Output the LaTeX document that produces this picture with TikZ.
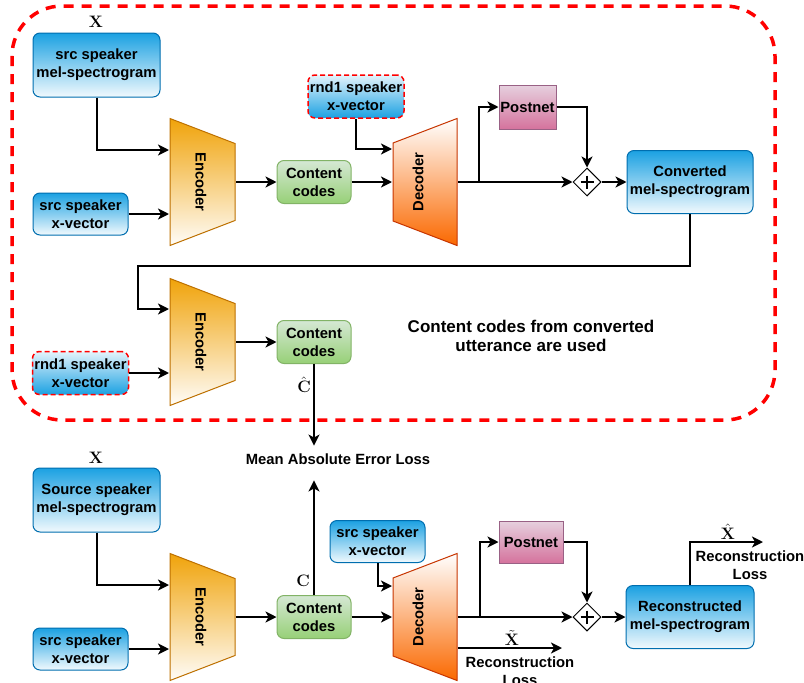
\documentclass[tikz,border=0pt]{standalone}
\usepackage[no-math]{fontspec}
\setmainfont{Liberation Sans}
\usetikzlibrary{arrows.meta,shapes.geometric,calc}
\definecolor{bluetop}{HTML}{1BA1E2}
\definecolor{blueline}{HTML}{006EAF}
\definecolor{encfill}{HTML}{F0A30A}
\definecolor{encline}{HTML}{BD7000}
\definecolor{decfill}{HTML}{FA6800}
\definecolor{decline}{HTML}{C73500}
\definecolor{cctop}{HTML}{D5E8D4}
\definecolor{ccbot}{HTML}{97D077}
\definecolor{ccline}{HTML}{82B366}
\definecolor{pntop}{HTML}{E6D0DE}
\definecolor{pnbot}{HTML}{D5739D}
\definecolor{pnline}{HTML}{996185}
\begin{document}
\begin{tikzpicture}[x=1pt,y=-1pt,>={Stealth[length=11pt,width=11pt,inset=3pt]},line width=2pt,
	txt/.style={font=\bfseries\fontsize{14.8}{18}\selectfont,align=center,inner sep=0pt},
	lbl/.style={font=\fontsize{14.4}{16}\selectfont,inner sep=0pt,scale=1.15,transform shape},
	bluebox/.style={txt,rounded corners=7pt,draw=blueline,line width=1pt,top color=bluetop,bottom color=bluetop!6,minimum width=#1},
	rndbox/.style={txt,rounded corners=7pt,draw=red,line width=1.5pt,dash pattern=on 5pt off 3pt,top color=bluetop!12,bottom color=bluetop,minimum width=96pt,minimum height=43pt},
	ccbox/.style={txt,rounded corners=7pt,draw=ccline,line width=1pt,top color=cctop,bottom color=ccbot,minimum width=74pt,minimum height=43pt},
	pnbox/.style={txt,draw=pnline,line width=1pt,top color=pntop,bottom color=pnbot},
	trapnode/.style={minimum width=65pt,minimum height=127pt,inner sep=0pt},
	sumnode/.style={diamond,draw,fill=white,line width=1pt,minimum size=28pt,inner sep=0pt,
		path picture={\draw[line width=1.8pt] (path picture bounding box.center) ++(-6.5,0) -- ++(13,0) ++(-6.5,-6.5) -- ++(0,13);}}]
	\useasboundingbox (0,0) rectangle (804,683);
	\def\encblock#1#2{
		\node[trapnode] (#1) at (202.5,#2) {};
		\shadedraw[top color=encfill,bottom color=encfill!3,draw=encline,line width=1pt]
		(170,#2-63.5) -- (235,#2-38.5) -- (235,#2+38.5) -- (170,#2+63.5) -- cycle;
		\node[txt,rotate=-90] (#1txt) at (201,#2) {Encoder};
	}
	\def\decblock#1#2{
		\node[trapnode,minimum width=64pt] (#1) at (425,#2) {};
		\shadedraw[top color=white,bottom color=decfill,draw=decline,line width=1pt]
		(393,#2-39) -- (457,#2-63.5) -- (457,#2+63.5) -- (393,#2+39) -- cycle;
		\node[txt,rotate=90] (#1txt) at (418,#2) {Decoder};
	}
	% conversion cycle
	\draw[red,line width=3.5pt,dash pattern=on 10pt off 8pt,rounded corners=50pt] (12,6) rectangle (775,420);
	\node[lbl] (x1) at (96,22) {$\mathbf{X}$};
	\node[bluebox=127,minimum height=64pt] (mel1) at (96.5,65) {src speaker\\mel-spectrogram};
	\node[bluebox=95,minimum height=42pt] (xv1) at (80.5,214) {src speaker\\x-vector};
	\encblock{enc1}{182}
	\node[ccbox] (cc1) at (314,182) {Content\\codes};
	\node[rndbox] (rnd1) at (356,96.5) {rnd1 speaker\\x-vector};
	\decblock{dec1}{182}
	\node[pnbox,minimum width=57pt,minimum height=44pt] (pn1) at (527.5,107) {Postnet};
	\node[sumnode] (sum1) at (587,182) {};
	\node[bluebox=126,minimum height=63pt] (conv) at (690,182) {Converted\\mel-spectrogram};
	\coordinate (back) at (138,266);
	\encblock{enc2}{342}
	\node[rndbox] (rnd2) at (80.5,373) {rnd1 speaker\\x-vector};
	\node[ccbox] (cc2) at (314,342) {Content\\codes};
	\node[lbl] (chat) at (304,385) {$\hat{\mathbf{C}}$};
	\node[txt,font=\bfseries\fontsize{17}{19}\selectfont] (note) at (531,336) {Content codes from converted\\utterance are used};
	\node[txt,inner ysep=7pt] (mae) at (338,459) {Mean Absolute Error Loss};
	% reconstruction
	\node[lbl] (x3) at (96,458) {$\mathbf{X}$};
	\node[bluebox=127,minimum height=64pt] (mel3) at (96.5,500) {Source speaker\\mel-spectrogram};
	\node[bluebox=95,minimum height=42pt] (xv3) at (80.5,649) {src speaker\\x-vector};
	\encblock{enc3}{617}
	\node[ccbox] (cc3) at (314,617) {Content\\codes};
	\node[lbl] (c3) at (303,581) {$\mathbf{C}$};
	\node[bluebox=95,minimum height=42pt] (xv4) at (377.5,541.5) {src speaker\\x-vector};
	\decblock{dec3}{617}
	\node[pnbox,minimum width=64pt,minimum height=42pt] (pn3) at (531,542) {Postnet};
	\node[sumnode] (sum3) at (587,617) {};
	\node[bluebox=128,minimum height=63pt] (rec) at (690,617) {Reconstructed\\mel-spectrogram};
	\coordinate (xhend) at (763,542);
	\node[lbl] (xhat) at (728,532) {$\hat{\mathbf{X}}$};
	\node[txt] (rl1) at (750,565) {Reconstruction\\Loss};
	\coordinate (xtend) at (562,648);
	\node[lbl] (xtil) at (512,638) {$\tilde{\mathbf{X}}$};
	\node[txt] (rl2) at (520,671) {Reconstruction\\Loss};
	% connectors
	\draw[->] (mel1.south) |- ($(enc1.west)+(0,-32)$);
	\draw[->] (xv1.east) -- (xv1.east -| enc1.west);
	\draw[->] (enc1.east) -- (cc1.west);
	\draw[->] (cc1.east) -- (dec1.west);
	\draw[->] (rnd1.south) |- ($(dec1.west)+(0,-33)$);
	\draw[->] (dec1.east) -- (sum1.west);
	\draw[->] ($(dec1.east)+(21,0)$) |- (pn1.west);
	\draw[->] (pn1.east) -| (sum1.north);
	\draw[->] (sum1.east) -- (conv.west);
	\draw[->] (conv.south) |- (back) |- ($(enc2.west)+(0,-33)$);
	\draw[->] (rnd2.east) -- (rnd2.east -| enc2.west);
	\draw[->] (enc2.east) -- (cc2.west);
	\draw[->] (cc2.south) -- (cc2.south |- mae.north);
	\draw[->] (mel3.south) |- ($(enc3.west)+(0,-32)$);
	\draw[->] (xv3.east) -- (xv3.east -| enc3.west);
	\draw[->] (enc3.east) -- (cc3.west);
	\draw[->] (cc3.north) -- ($(cc3.north |- mae.south)+(0,8)$);
	\draw[->] (cc3.east) -- (dec3.west);
	\draw[->] (xv4.south) |- ($(dec3.west)+(0,-31)$);
	\draw[->] (dec3.east) -- (sum3.west);
	\draw[->] ($(dec3.east)+(22,0)$) |- (pn3.west);
	\draw[->] (pn3.east) -| (sum3.north);
	\draw[->] (sum3.east) -- (rec.west);
	\draw[->] (rec.north) |- (xhend);
	\draw[->] ($(dec3.east)+(0,31)$) -- (xtend);
\end{tikzpicture}
\end{document}
